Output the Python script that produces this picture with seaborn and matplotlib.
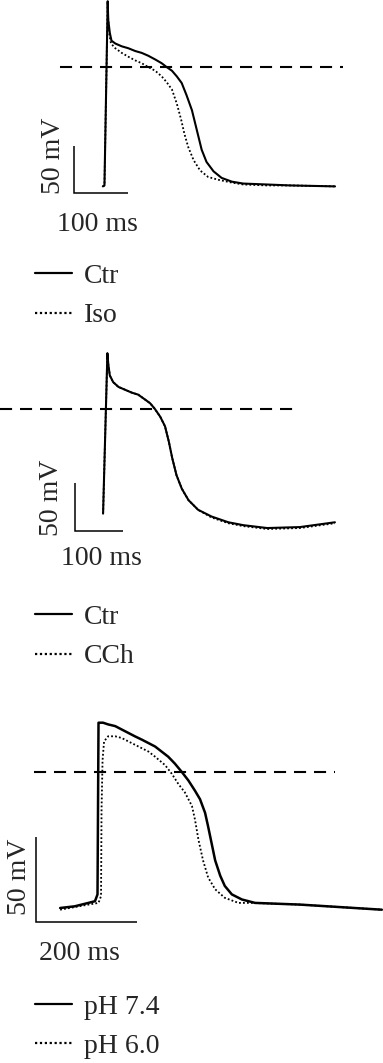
import numpy as np
import pandas as pd
import matplotlib
matplotlib.use("Agg")
import matplotlib.pyplot as plt
import seaborn as sns

# ---------------- data (time in ms, membrane potential in mV) ----------------
# Panel A: Ctr vs Iso
a_ctr_t = [-4, -1, 5, 6, 9, 12, 19, 31, 43, 56, 68, 80, 93, 105, 114, 124, 133, 142, 151, 161,
           167, 173, 179, 188, 201, 216, 235, 256, 300, 343, 426]
a_ctr_v = [-127, -126, 70, 50, 36, 28, 25, 22, 20, 17, 15, 12, 8, 4, 0, -4, -10, -17, -30, -46,
           -60, -74, -88, -101, -111, -118, -122, -124, -125, -126, -127]
a_iso_t = [-4, -1, 5, 6, 8, 11, 19, 31, 43, 56, 68, 80, 93, 105, 114, 124, 133, 141, 147, 154,
           164, 176, 191, 210, 235, 256, 300, 343, 426]
a_iso_v = [-127, -126, 70, 50, 35, 25, 20, 15, 11, 7, 4, 0, -4, -10, -16, -24, -39, -56, -71, -85,
           -99, -110, -117, -120, -123, -125, -126, -126, -127]
a_labels = ["Ctr", "Iso"]

# Panel B: Ctr vs CCh
b_ctr_t = [-4, 5, 7, 10, 17, 28, 42, 56, 69, 83, 94, 104, 115, 125, 133, 140, 149, 160, 174,
           194, 222, 257, 288, 338, 406, 479]
b_ctr_v = [-109, 58, 46, 35, 28, 23, 20, 17, 15, 10, 6, 0, -8, -18, -34, -51, -69, -83, -95,
           -105, -112, -118, -121, -124, -123, -118]
b_cch_t = [-4, 5, 7, 10, 17, 28, 42, 56, 69, 83, 94, 104, 115, 125, 133, 140, 149, 160, 174,
           194, 222, 257, 288, 338, 406, 479]
b_cch_v = [-109, 58, 46, 35, 28, 23, 20, 17, 15, 10, 6, 0, -8, -18, -34, -51, -69, -83, -95,
           -105, -113, -119, -122, -125, -124, -119]
b_labels = ["Ctr", "CCh"]

# Panel C: pH 7.4 vs pH 6.0
c_74_t = [-73, -44, -17, -4, 1, 3, 12, 22, 36, 49, 62, 75, 89, 102, 115, 128, 141, 154, 168,
          181, 194, 204, 214, 220, 227, 234, 244, 253, 267, 287, 313, 402, 564]
c_74_v = [-80, -79, -77, -76, -72, 29, 29, 28, 27, 25, 23, 21, 19, 17, 15, 12, 9, 5, 0,
          -5, -11, -16, -24, -32, -42, -52, -61, -67, -72, -75, -77, -78, -81]
c_60_t = [-73, -17, 3, 8, 9, 11, 14, 22, 36, 49, 62, 82, 102, 115, 135, 148, 161, 174, 188,
          194, 201, 210, 220, 234, 253, 280, 306, 402, 564]
c_60_v = [-81, -78, -77, -73, -22, 7, 18, 21, 21, 20, 18, 15, 12, 9, 4, -1, -7, -12, -20,
          -28, -40, -52, -62, -69, -74, -77, -77, -78, -81]
c_labels = ["pH 7.4", "pH 6.0"]

# threshold / reference lines (0 mV) extents in ms
a_ref_t = [-83, 440]
b_ref_t = [-219, 406]
c_ref_t = [-125, 471]
ref_v = [0, 0]

# scale bars
a_bar = dict(t0=-58, v0=-134, mv=50, ms=100)
b_bar = dict(t0=-62, v0=-127, mv=50, ms=100)
c_bar = dict(t0=-121, v0=-88, mv=50, ms=200)

# ---------------- style ----------------
sns.set_theme(style="white")
plt.rcParams["font.family"] = ["Liberation Serif", "DejaVu Serif"]
FS = 20

W, H = 383, 1063
fig = plt.figure(figsize=(W / 100, H / 100), dpi=100)
fig.patch.set_facecolor("white")

panels = [
    dict(top=0, h=340, x0=105, ppms=0.54, y0=67, ppmv=0.94,
         traces=[(a_ctr_t, a_ctr_v), (a_iso_t, a_iso_v)], labels=a_labels,
         ref_t=a_ref_t, bar=a_bar, lw=1.5,
         ms_off=(-3, -32), mv_off=(-20.5, 13.5), leg_y=(273, 313)),
    dict(top=340, h=340, x0=105, ppms=0.48, y0=69, ppmv=0.96,
         traces=[(b_ctr_t, b_ctr_v), (b_cch_t, b_cch_v)], labels=b_labels,
         ref_t=b_ref_t, bar=b_bar, lw=1.5,
         ms_off=(2, -28), mv_off=(-24, 9), leg_y=(275, 313)),
    dict(top=680, h=383, x0=97, ppms=0.505, y0=92, ppmv=1.7,
         traces=[(c_74_t, c_74_v), (c_60_t, c_60_v)], labels=c_labels,
         ref_t=c_ref_t, bar=c_bar, lw=1.8,
         ms_off=(-6.5, -31.5), mv_off=(-16.5, 2.5), leg_y=(325, 362)),
]

PX2PT = 0.72

for p in panels:
    ax = fig.add_axes([0, 1 - (p["top"] + p["h"]) / H, 1, p["h"] / H])
    frames = []
    for (t, v), lab in zip(p["traces"], p["labels"]):
        frames.append(pd.DataFrame({"t": t, "v": v, "cond": lab}))
    df = pd.concat(frames, ignore_index=True)
    sns.lineplot(data=df, x="t", y="v", style="cond", style_order=p["labels"],
                 dashes={p["labels"][0]: "", p["labels"][1]: (1, 1.2)},
                 color="black", estimator=None, sort=False, ax=ax,
                 linewidth=p["lw"], legend=True)
    leg = ax.get_legend()
    handles = list(leg.legend_handles)
    labels = [tx.get_text() for tx in leg.get_texts()]
    leg.remove()
    for hd in handles:
        hd.set_color("black")
        hd.set_linewidth(1.6)
    lines = ax.get_lines()
    if len(lines) >= 2:
        lines[0].set_zorder(3)
        lines[1].set_zorder(2)
        lines[1].set_linewidth(1.3)
        lines[0].set_solid_joinstyle("round")

    # reference line
    ax.plot(p["ref_t"], ref_v, color="black", lw=1.5, linestyle=(0, (5.8, 3.8)), zorder=1)

    # scale bar
    b = p["bar"]
    ax.plot([b["t0"], b["t0"], b["t0"] + b["ms"]],
            [b["v0"] + b["mv"], b["v0"], b["v0"]], color="black", lw=1.1,
            solid_joinstyle="miter", solid_capstyle="butt")
    ax.annotate(f"{b['ms']} ms", xy=(b["t0"] + b["ms"] / 2, b["v0"]),
                xytext=(p["ms_off"][0] * PX2PT, p["ms_off"][1] * PX2PT),
                textcoords="offset points", ha="center", va="center", fontsize=FS)
    ax.annotate(f"{b['mv']} mV", xy=(b["t0"], b["v0"] + b["mv"] / 2),
                xytext=(p["mv_off"][0] * PX2PT, p["mv_off"][1] * PX2PT),
                textcoords="offset points", ha="center", va="center",
                rotation=90, fontsize=FS)

    ax.set_xlim(-p["x0"] / p["ppms"], (W - p["x0"]) / p["ppms"])
    ax.set_ylim((p["y0"] - p["h"]) / p["ppmv"], p["y0"] / p["ppmv"])
    ax.axis("off")

    # legend
    yc = (p["leg_y"][0] + p["leg_y"][1]) / 2 + 3
    ax.legend(handles, labels, loc="center left",
              bbox_to_anchor=(35 / W, 1 - yc / p["h"]),
              frameon=False, fontsize=FS, borderpad=0, borderaxespad=0,
              handlelength=37 / 27.8, handletextpad=12 / 27.8,
              labelspacing=0.5)

fig.savefig("out.png", dpi=100, facecolor="white")
